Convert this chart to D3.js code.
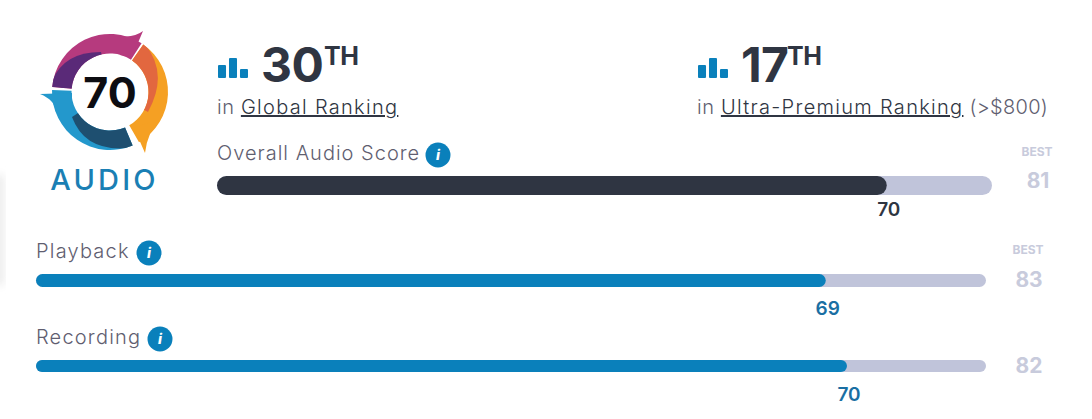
<!DOCTYPE html>
<html><head><meta charset="utf-8">
<script src="https://cdn.jsdelivr.net/npm/d3@7/dist/d3.min.js"></script>
<style>
html,body{margin:0;padding:0;background:#fff;overflow:hidden}
svg{display:block}
text{font-family:Inter,"Noto Sans",sans-serif}
</style></head><body>
<svg id="c" width="1092" height="419"></svg>
<script>
const categories=["Overall Audio Score","Playback","Recording"];
const scores=[70,69,70];
const bests=[81,83,82];
const ranks=["30","17"];
const rankLabels=["Global Ranking","Ultra-Premium Ranking"];
const overallScore=70;

const svg=d3.select("#c");
const NAVY="#2f3542",BLUE="#0a80bb",TRACK="#c0c4da",GREY="#5f5e70",BESTC="#c8cbdc";
const defs=svg.append("defs");

/* faint page shadow on the left edge */
defs.append("filter").attr("id","soft").append("feGaussianBlur").attr("stdDeviation",4);
svg.append("rect").attr("x",-8).attr("y",175).attr("width",12).attr("height",110).attr("fill","#ececec").attr("filter","url(#soft)");

/* ---------- bars ---------- */
const layout=[
 {x0:217,x1:992,y:176,h:19,fill:NAVY,labelFill:NAVY,labelY:160,valueY:216,bestX:1038,bestY:188,bestLabelY:156,iconX:438,iconY:155,showBest:true,ls:1},
 {x0:36,x1:986,y:274,h:13,fill:BLUE,labelFill:"#1a6fa3",labelY:258,valueY:315,bestX:1029,bestY:287,bestLabelY:254,iconX:149,iconY:253,showBest:true,ls:1.2},
 {x0:36,x1:986,y:360,h:12,fill:BLUE,labelFill:"#1a6fa3",labelY:344,valueY:401,bestX:1029,bestY:373,bestLabelY:0,iconX:160,iconY:339,showBest:false,ls:1.2}
];
categories.forEach((name,i)=>{
  const l=layout[i];
  const x=d3.scaleLinear().domain([0,bests[i]]).range([l.x0,l.x1]);
  const g=svg.append("g");
  g.append("rect").attr("x",x(0)).attr("y",l.y).attr("width",x(bests[i])-x(0)).attr("height",l.h).attr("rx",l.h/2).attr("fill",TRACK);
  g.append("rect").attr("x",x(0)).attr("y",l.y).attr("width",x(scores[i])-x(0)).attr("height",l.h).attr("rx",l.h/2).attr("fill",l.fill);
  g.append("text").attr("x",x(0)).attr("y",l.labelY).attr("font-size",20).attr("font-weight",300).attr("letter-spacing",l.ls).attr("fill",GREY).text(name);
  g.append("text").attr("x",x(scores[i])+2).attr("y",l.valueY).attr("text-anchor","middle").attr("font-size",19).attr("font-weight",600).attr("fill",l.labelFill).text(scores[i]);
  if(l.showBest) g.append("text").attr("x",l.bestX-1).attr("y",l.bestLabelY).attr("text-anchor","middle").attr("font-size",12).attr("font-weight",700).attr("fill",BESTC).text("BEST");
  g.append("text").attr("x",l.bestX).attr("y",l.bestY).attr("text-anchor","middle").attr("font-size",21).attr("font-weight",700).attr("fill",BESTC).text(bests[i]);
  const ic=g.append("g").attr("transform",`translate(${l.iconX},${l.iconY})`);
  ic.append("circle").attr("r",12.5).attr("fill",BLUE);
  ic.append("text").attr("y",5).attr("text-anchor","middle").attr("font-size",14).attr("font-weight",800).attr("font-style","italic").attr("fill","#fff").text("i");
});

/* ---------- rank blocks ---------- */
const rankPos=[{x:218,num:261,sup:324},{x:698,num:741,sup:787}];
const barIconHeights=[13,20,9];
ranks.forEach((r,i)=>{
  const p=rankPos[i];
  const yb=78;
  const bx=d3.scaleBand().domain(d3.range(3)).range([p.x,p.x+30]).paddingInner(.27);
  svg.append("g").selectAll("rect").data(barIconHeights).join("rect")
    .attr("x",(d,j)=>bx(j)).attr("width",bx.bandwidth()).attr("y",d=>yb-d).attr("height",d=>d).attr("rx",1).attr("fill",BLUE);
  svg.append("text").attr("x",p.num).attr("y",82).attr("font-size",48).attr("font-weight",700).attr("letter-spacing",i==0?-.4:-.6).attr("fill",NAVY).text(r);
  svg.append("text").attr("x",p.sup).attr("y",65).attr("font-size",25).attr("font-weight",700).attr("letter-spacing",-.4).attr("fill",NAVY).text("TH");
  const t=svg.append("text").attr("x",p.x-1).attr("y",114).attr("font-size",20).attr("font-weight",300).attr("fill",GREY);
  t.append("tspan").attr("letter-spacing",.6).text("in ");
  t.append("tspan").attr("letter-spacing",1.3).attr("fill",NAVY).attr("text-decoration","underline").text(rankLabels[i]);
  if(i==1) t.append("tspan").attr("letter-spacing",.3).text(" (>$800)");
});

/* ---------- logo ---------- */
const c=[110,92];
const logo=svg.append("g");
const deg=d=>d*Math.PI/180;
const HUB=38.5,RO=58;
const ring=d3.arc().innerRadius(HUB).outerRadius(RO);
let cid=0;
function seg(a0,a1,fill,extra,dark,darkFill){
  const id="clip"+(cid++);
  const d0=ring({startAngle:deg(a0),endAngle:deg(a1)});
  defs.append("clipPath").attr("id",id).append("path").attr("transform",`translate(${c})`).attr("d",d0);
  logo.append("path").attr("transform",`translate(${c})`).attr("d",d0).attr("fill",fill);
  poly(fill,extra);
  const p=d3.path();dark(p);p.closePath();
  logo.append("path").attr("d",p.toString()).attr("fill",darkFill).attr("clip-path",`url(#${id})`);
}
function poly(fill,fn){const p=d3.path();fn(p);p.closePath();logo.append("path").attr("d",p.toString()).attr("fill",fill);}
// magenta
seg(-85,33,"#b63a7e",
  p=>{p.moveTo(120,36);p.quadraticCurveTo(134,38,143,31);p.lineTo(132,57);p.lineTo(120,55);},
  p=>{p.moveTo(50,87);p.quadraticCurveTo(60,52,101,52);p.lineTo(110,92);},"#5a2a78");
// orange
seg(35,150,"#f5a023",
  p=>{p.moveTo(134,128);p.lineTo(145,153);p.quadraticCurveTo(146,143,150,134);p.lineTo(150,122);},
  p=>{p.moveTo(143,42);p.quadraticCurveTo(170,72,148,112);p.lineTo(110,92);},"#e2673f");
// blue
seg(157,272,"#2398cc",
  p=>{p.moveTo(40,94);p.lineTo(72,93);p.lineTo(72,112);p.lineTo(56,112);p.quadraticCurveTo(55,100,40,94);},
  p=>{p.moveTo(72,117);p.quadraticCurveTo(86,155,136,147);p.lineTo(110,92);},"#1e4f70");
logo.append("text").attr("x",c[0]).attr("y",108).attr("text-anchor","middle").attr("font-size",43).attr("font-weight",700).attr("fill","#0d0d12").text(overallScore);
logo.append("text").attr("x",104.5).attr("y",190).attr("text-anchor","middle").attr("font-size",29).attr("font-weight",500).attr("letter-spacing",3.2).attr("fill","#1a7fb4").text("AUDIO");
</script></body></html>
